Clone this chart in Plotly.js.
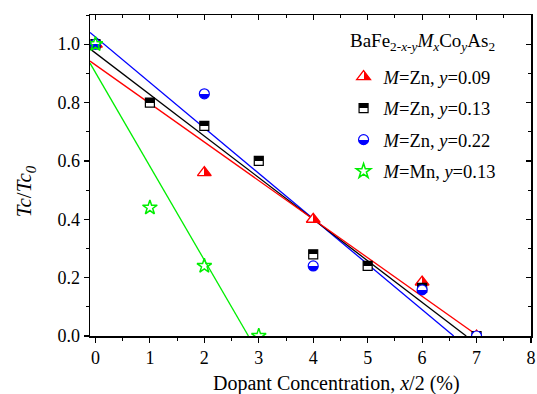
<!DOCTYPE html>
<html>
<head>
<meta charset="utf-8">
<script src="https://cdn.plot.ly/plotly-3.0.1.min.js"></script>
<style>html,body{margin:0;padding:0;background:#fff;}#chart{width:537px;height:394px;}</style>
</head>
<body>
<div id="chart"></div>
<script>
// ---- data ----
const znA_x = [0, 2, 4, 6, 7];
const znA_y = [1.0, 0.56, 0.40, 0.185, 0.0];
const znB_x = [0, 1, 2, 3, 4, 5, 6, 7];
const znB_y = [1.0, 0.80, 0.72, 0.60, 0.28, 0.24, 0.165, 0.0];
const znC_x = [0, 2, 4, 6, 7];
const znC_y = [1.0, 0.83, 0.24, 0.158, 0.0];
const mn_x = [0, 1, 2, 3];
const mn_y = [1.0, 0.44, 0.24, 0.0];
// linear-fit line end points
const fitA_x = [-0.1, 7.03];
const fitA_y = [0.942, 0.0];
const fitB_x = [-0.1, 6.81];
const fitB_y = [0.984, 0.0];
const fitC_x = [-0.1, 6.58];
const fitC_y = [1.04, 0.0];
const fitMn_x = [-0.1, 2.81];
const fitMn_y = [0.935, 0.0];
const xTicks = [0, 1, 2, 3, 4, 5, 6, 7, 8];
const yTicks = [0.0, 0.2, 0.4, 0.6, 0.8, 1.0];
const xTitle = 'Dopant Concentration, <i>x</i>/2 (%)';
const yTitle = '<i>Tc</i>/<i>Tc</i><sub><i>0</i></sub>';
const legendTitle = 'BaFe<sub>2-<i>x</i>-<i>y</i></sub><i>M</i><sub><i>x</i></sub>Co<sub><i>y</i></sub>As<sub>2</sub>';
const legendNames = [
  '<i>M</i>=Zn, <i>y</i>=0.09',
  '<i>M</i>=Zn, <i>y</i>=0.13',
  '<i>M</i>=Zn, <i>y</i>=0.22',
  '<i>M</i>=Mn, <i>y</i>=0.13'
];

const RED = '#ff0000', BLK = '#000000', BLU = '#0000ff', GRN = '#00ee00';
const FONT = "'Liberation Serif', 'Times New Roman', Times, serif";

function fit(x, y, c) {
  return {x: x, y: y, mode: 'lines', type: 'scatter', line: {color: c, width: 1.3},
          showlegend: false, hoverinfo: 'skip', cliponaxis: true};
}
const traces = [
  fit(fitC_x, fitC_y, BLU),
  fit(fitB_x, fitB_y, BLK),
  fit(fitA_x, fitA_y, RED),
  fit(fitMn_x, fitMn_y, GRN),
  {x: znA_x, y: znA_y, mode: 'markers', type: 'scatter', name: legendNames[0], legendgroup: 'a',
   marker: {symbol: 'triangle-up', size: 12, color: '#ffffff', line: {color: RED, width: 1.3},
            gradient: {type: 'horizontal', color: RED}}},
  {x: znB_x, y: znB_y, mode: 'markers', type: 'scatter', name: legendNames[1], legendgroup: 'b',
   marker: {symbol: 'square', size: 9, color: BLK, line: {color: BLK, width: 1.2},
            gradient: {type: 'vertical', color: '#ffffff'}}},
  {x: znC_x, y: znC_y, mode: 'markers', type: 'scatter', name: legendNames[2], legendgroup: 'c',
   marker: {symbol: 'circle', size: 10, color: '#ffffff', line: {color: BLU, width: 1.2},
            gradient: {type: 'vertical', color: BLU}}},
  {x: mn_x, y: mn_y, mode: 'markers', type: 'scatter', name: legendNames[3], legendgroup: 'd',
   marker: {symbol: 'star-open', size: 11, color: GRN, line: {color: GRN, width: 1.5}}},
  // carrier for mirrored (top/right) axes
  {x: [0], y: [0], xaxis: 'x2', yaxis: 'y2', mode: 'markers', marker: {opacity: 0},
   showlegend: false, hoverinfo: 'skip'}
];

const axisCommon = {
  showgrid: false, zeroline: false, showline: true, linecolor: '#000', linewidth: 1.5,
  ticklen: 5, tickwidth: 1.2, tickcolor: '#000',
  tickfont: {family: FONT, size: 18, color: '#000'}
};

const layout = {
  width: 537, height: 394,
  margin: {l: 90, r: 6, t: 15, b: 58},
  paper_bgcolor: '#fff', plot_bgcolor: '#fff',
  font: {family: FONT, color: '#000'},
  xaxis: Object.assign({}, axisCommon, {
    range: [-0.1, 8], tickvals: xTicks, ticktext: xTicks.map(String), ticks: 'outside',
    minor: {dtick: 0.5, tick0: 0, ticks: 'outside', ticklen: 3, tickcolor: '#000', tickwidth: 1}
  }),
  yaxis: Object.assign({}, axisCommon, {
    range: [0, 1.1], tickvals: yTicks, ticktext: yTicks.map(v => v.toFixed(1)), ticks: 'outside',
    minor: {dtick: 0.1, tick0: 0, ticks: 'outside', ticklen: 3, tickcolor: '#000', tickwidth: 1}
  }),
  xaxis2: Object.assign({}, axisCommon, {
    overlaying: 'x', side: 'top', range: [-0.1, 8], tickvals: xTicks, showticklabels: false,
    ticks: 'inside', anchor: 'y2',
    minor: {dtick: 0.5, tick0: 0, ticks: 'inside', ticklen: 3, tickcolor: '#000', tickwidth: 1}
  }),
  yaxis2: Object.assign({}, axisCommon, {
    overlaying: 'y', side: 'right', range: [0, 1.1], tickvals: yTicks, showticklabels: false,
    ticks: 'inside', anchor: 'x2',
    minor: {dtick: 0.1, tick0: 0, ticks: 'inside', ticklen: 3, tickcolor: '#000', tickwidth: 1}
  }),
  annotations: [
    {text: legendTitle, xref: 'paper', yref: 'paper', x: 0.923, y: 0.916,
     xanchor: 'right', yanchor: 'middle', showarrow: false,
     font: {family: FONT, size: 19, color: '#000'}},
    {text: xTitle, xref: 'paper', yref: 'paper', x: 0.558, y: -0.149,
     xanchor: 'center', yanchor: 'middle', showarrow: false,
     font: {family: FONT, size: 20, color: '#000'}},
    {text: yTitle, xref: 'paper', yref: 'paper', x: -0.148, y: 0.45, textangle: -90,
     xanchor: 'center', yanchor: 'middle', showarrow: false,
     font: {family: FONT, size: 21, color: '#000'}}
  ],
  showlegend: true,
  legend: {
    x: 0.575, y: 0.866, xanchor: 'left', yanchor: 'top',
    bgcolor: 'rgba(0,0,0,0)', borderwidth: 0,
    font: {family: FONT, size: 18.5, color: '#000'},
    traceorder: 'grouped', tracegroupgap: 4.5
  }
};

function hardStops() {
  document.querySelectorAll('linearGradient').forEach(function (g) {
    const stops = g.querySelectorAll('stop');
    if (stops.length !== 2) return;
    const s0 = stops[0], s1 = stops[1];
    const c0 = s0.getAttribute('stop-color'), o0 = s0.getAttribute('stop-opacity') || '1';
    const c1 = s1.getAttribute('stop-color'), o1 = s1.getAttribute('stop-opacity') || '1';
    const ns = 'http://www.w3.org/2000/svg';
    const a = document.createElementNS(ns, 'stop');
    a.setAttribute('offset', '50%'); a.setAttribute('stop-color', c0); a.setAttribute('stop-opacity', o0);
    const b = document.createElementNS(ns, 'stop');
    b.setAttribute('offset', '50%'); b.setAttribute('stop-color', c1); b.setAttribute('stop-opacity', o1);
    g.insertBefore(a, s1);
    g.insertBefore(b, s1);
  });
}

Plotly.newPlot('chart', traces, layout, {displayModeBar: false, staticPlot: true}).then(hardStops);
</script>
</body>
</html>
